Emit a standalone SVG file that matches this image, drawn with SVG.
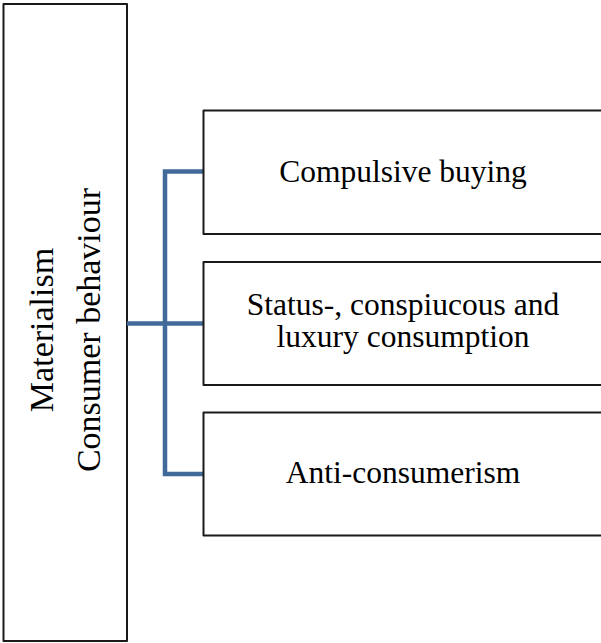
<svg xmlns="http://www.w3.org/2000/svg" width="601" height="643" viewBox="0 0 601 643">
  <style>
    .box { fill: #ffffff; stroke: #1a1a1a; stroke-width: 2; stroke-linejoin: round; }
    .lbl { font-family: "Liberation Serif", "Times New Roman", serif; font-size: 31.5px; fill: #000000; text-anchor: middle; }
    .vlbl { font-family: "Liberation Serif", "Times New Roman", serif; font-size: 34px; fill: #000000; text-anchor: middle; }
    .link { fill: none; stroke: #41699a; stroke-width: 4.5; stroke-linejoin: miter; }
  </style>

  <!-- root node: rotated label -->
  <g id="node-materialism">
    <rect class="box" x="3.5" y="4" width="123.5" height="637"/>
    <text class="vlbl" transform="translate(53,330) rotate(-90)">Materialism</text>
    <text class="vlbl" transform="translate(100,330) rotate(-90)">Consumer behaviour</text>
  </g>

  <!-- branch connectors -->
  <g id="connectors">
    <path class="link" d="M203,171.5 H165 V474 H203"/>
    <path class="link" d="M127,323.5 H203"/>
  </g>

  <g id="node-compulsive">
    <rect class="box" x="203.5" y="110.5" width="410" height="123.5"/>
    <text class="lbl" x="403" y="182">Compulsive buying</text>
  </g>

  <g id="node-status">
    <rect class="box" x="203.5" y="262" width="410" height="123"/>
    <text class="lbl" x="403" y="315">Status-, conspiucous and</text>
    <text class="lbl" x="403" y="347">luxury consumption</text>
  </g>

  <g id="node-anti">
    <rect class="box" x="203.5" y="412.5" width="410" height="123"/>
    <text class="lbl" x="403" y="483">Anti-consumerism</text>
  </g>
</svg>
